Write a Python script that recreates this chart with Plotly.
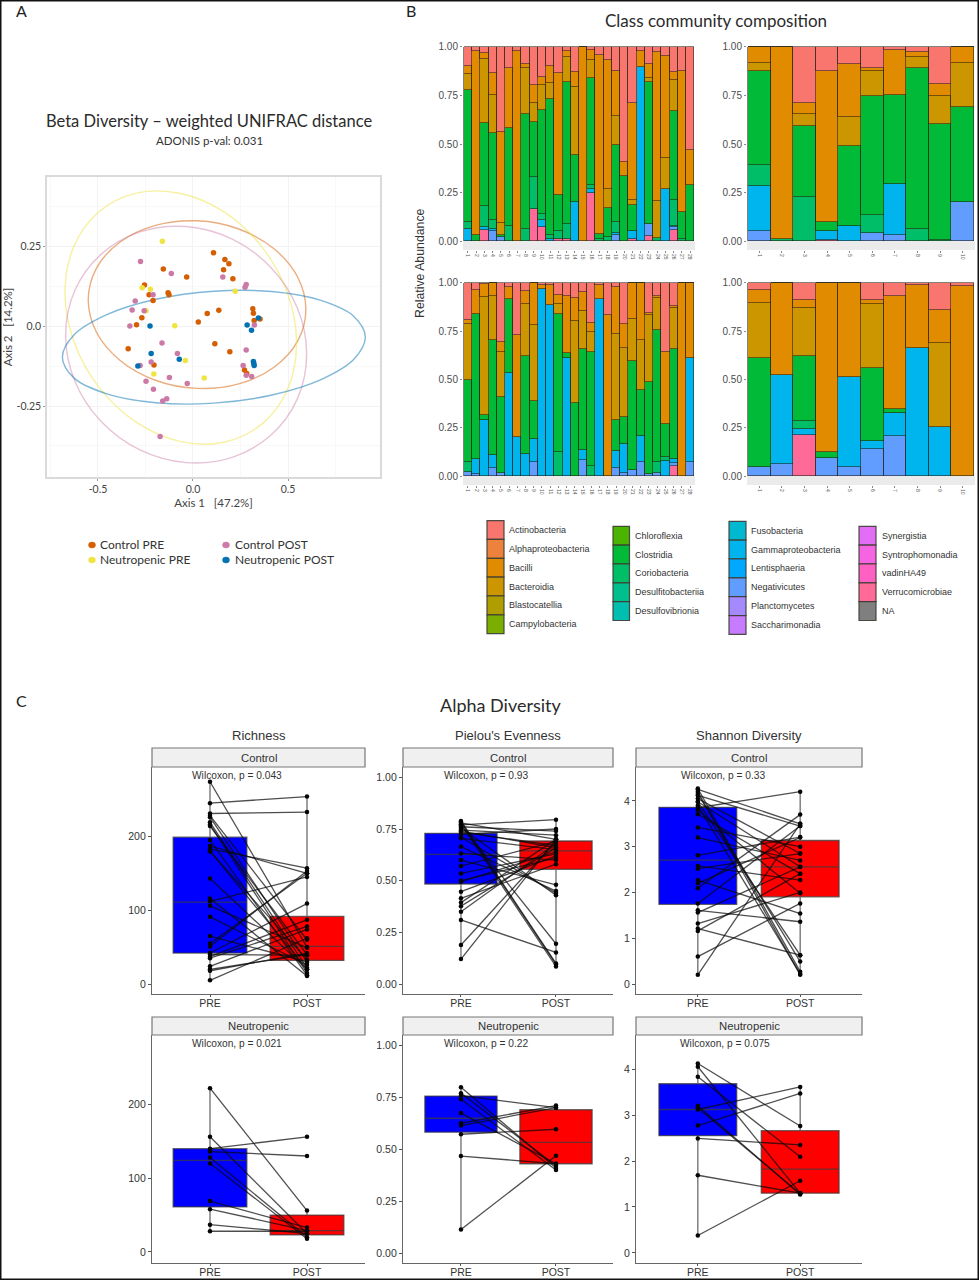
import plotly.graph_objects as go

# ---------- Panel A data ----------
CP_X = [.108,.168,.189,.161,.21,-.156,-.033,-.255,-.231,-.131,-.126,-.21,-.269,-.297,-.341,.028,.075,.136,.315,.318,.322,.353,.115,.194,-.205,.271,.283]
CP_Y = [.229,.208,.195,.176,.148,.178,.153,.128,.098,.104,.098,.08,.026,.004,-.071,.0125,.039,.049,.054,.04,.017,.022,-.055,-.08,-.122,-.1375,-.148]
NP_X = [-.161,-.224,-.267,.222,-.247,-.096,-.04,-.206,.059]
NP_Y = [.265,.115,.12,.109,.048,.001,-.108,-.15,-.1625]
CO_X = [-.276,-.114,.157,.28,.274,-.21,-.304,-.32,-.257,-.332,.323,-.163,.28,-.082,-.22,-.278,.264,.28,.309,-.124,-.03,-.247,-.208,-.138,-.159,-.173]
CO_Y = [.202,.164,.153,.13,.121,.098,.078,.05,.048,0,.003,-.053,-.075,-.086,-.1125,-.123,-.123,-.154,-.158,-.161,-.18,-.173,-.198,-.227,-.234,-.345]
NO_X = [-.226,.285,.308,.344,-.22,-.072,-.29,.318,.32,.322]
NO_Y = [0,.003,-.0135,.025,-.086,-.104,-.125,-.111,-.117,-.123]

EL_CP_X = [.594,.5505,.4263,.2408,.0215,-.1978,-.3833,-.5075,-.551,-.5075,-.3833,-.1978,.0215,.2408,.4263,.5505,.594]
EL_CP_Y = [.052,.1534,.2416,.3034,.329,.3148,.2628,.1812,.082,-.0194,-.1076,-.1694,-.195,-.1808,-.1288,-.0472,.052]
EL_NP_X = [.545,.4987,.3666,.1692,-.064,-.2972,-.4946,-.6267,-.673,-.6267,-.4946,-.2972,-.064,.1692,.3666,.4987,.545]
EL_NP_Y = [-.0535,.1012,.2442,.3544,.4145,.4156,.3574,.249,.1065,-.0482,-.1912,-.3014,-.3615,-.3626,-.3044,-.196,-.0535]
EL_CO_X = [.598,.5498,.4122,.2068,-.036,-.2788,-.4842,-.6218,-.67,-.6218,-.4842,-.2788,-.036,.2068,.4122,.5498,.598]
EL_CO_Y = [-.088,.0556,.1817,.2715,.311,.2945,.2241,.111,-.028,-.1716,-.2977,-.3875,-.427,-.4105,-.3401,-.227,-.088]
EL_NO_X = [.907,.8464,.6735,.4153,.11,-.1953,-.4535,-.6264,-.687,-.6264,-.4535,-.1953,.11,.4153,.6735,.8464,.907]
EL_NO_Y = [-.0345,.0301,.08,.1078,.109,.0836,.0354,-.0281,-.0975,-.1621,-.212,-.2398,-.241,-.2156,-.1674,-.1039,-.0345]

# ---------- Panel B data ----------
TL_VER = [0,0,.055,0,0,0,0,0,.165,.07,0,.01,.01,0,0,.25,0,0,0,0,.01,0,.025,0,0,.055,0,0]
TL_NEG = [0,0,0,.05,.02,0,0,0,0,0,0,0,0,0,0,0,0,0,.03,0,0,0,.065,0,0,.02,0,0]
TL_GAM = [.06,0,.02,.01,0,0,0,0,0,.04,.01,0,0,.20,0,.02,0,0,.01,0,.04,.895,0,0,.27,.005,0,0]
TL_COR = [.04,0,.105,.05,0,.08,0,.06,.165,.03,.02,.04,.08,0,0,.02,.01,.02,.06,0,0,0,0,.015,0,.13,.01,0]
TL_CLO = [.68,.03,.43,.445,.01,.50,0,.595,.285,.535,.70,.185,.73,.245,0,.55,.025,.15,.395,.335,.135,0,.73,0,0,.46,.14,.29]
TL_BCT = [.08,0,.33,.20,.065,0,0,.235,.095,.13,.085,0,.13,.35,0,.095,0,.10,.15,0,.025,0,.02,.19,.16,.16,0,0]
TL_BAC = [.04,.95,.03,.11,.465,.31,.98,.02,.095,.04,.085,.63,.03,.075,1,.05,.925,.665,.23,.07,.50,.085,.07,.77,.525,.04,.725,.18]
TL_ACT = [.10,.02,.03,.135,.44,.11,.02,.09,.195,.155,.10,.135,.02,.13,0,.015,.04,.065,.125,.595,.29,.02,.09,.025,.045,.13,.125,.53]

BL_VER = [0,0,0,0,0,0,0,0,0,0,0,0,0,0,0,0,0,0,0,0,0,0,0,0,0,.05,0,0]
BL_NEG = [.02,.01,0,.04,.015,0,0,0,.075,0,0,0,0,0,.085,0,0,0,.04,.015,.03,.075,.01,.015,0,.02,0,.075]
BL_GAM = [0,.08,.29,.07,0,.535,.205,.115,.115,.97,.885,0,.61,0,.05,0,.915,0,.09,.15,0,.135,0,0,.08,.02,0,.535]
BL_COR = [.055,0,0,0,0,0,0,0,0,0,0,.125,0,0,0,.05,0,0,0,0,0,0,0,.06,.02,0,0,0]
BL_CLO = [.425,.75,.025,.595,.395,.38,0,.505,.20,0,0,.715,.03,.38,.525,.595,0,0,.16,.14,.565,.235,.475,.68,.17,.57,0,0]
BL_BCT = [.285,0,.61,.23,.235,0,0,.27,.39,0,0,.05,0,.425,.195,.10,0,0,.445,.36,.22,.26,.35,.165,0,.21,0,0]
BL_BAC = [.025,.125,.07,.065,.05,.065,.525,.07,.22,.02,.105,.05,.295,.115,.10,.05,.075,.835,.245,.12,.185,.295,.01,.01,.375,.01,1,.39]
BL_ACT = [.19,.035,.005,0,.305,.02,.27,.04,0,.01,.01,.06,.065,.08,.045,.205,.01,.165,.02,.215,0,0,.155,.07,.355,.12,0,0]

TR_VER = [0,0,0,.005,0,0,0,0,0,0]
TR_NEG = [.05,0,0,0,0,.04,.03,0,0,.20]
TR_GAM = [.235,0,0,.045,.08,0,.265,0,0,0]
TR_COR = [.105,.01,.225,0,0,.095,0,.06,.005,0]
TR_CLO = [.485,0,.37,.05,.41,.61,.46,.83,.60,.49]
TR_BCT = [.04,0,.06,0,.15,.13,0,.06,.14,.23]
TR_BAC = [.085,.99,.055,.775,.27,.015,.23,.025,.065,.08]
TR_ACT = [0,0,.29,.125,.09,.11,.015,.025,.19,0]

BR_VER = [0,0,.215,0,0,0,0,0,0,0]
BR_NEG = [.045,.065,0,.095,.045,.14,.21,0,0,0]
BR_GAM = [0,.46,.03,0,.47,.04,.115,.665,.255,0]
BR_COR = [0,0,.04,0,0,0,0,0,0,0]
BR_CLO = [.565,0,.335,.03,0,.38,.025,0,0,0]
BR_BCT = [.285,0,.25,0,0,.33,0,0,.435,0]
BR_BAC = [.07,.475,.04,.875,.485,.02,.585,.325,.17,.985]
BR_ACT = [.035,0,.09,0,0,.09,.065,.01,.14,.015]

STACK_NAMES = ["Verrucomicrobiae","Negativicutes","Gammaproteobacteria","Coriobacteria","Clostridia","Bacteroidia","Bacilli","Actinobacteria"]
STACK_COLORS = ["#FF6A98","#619CFF","#00B5EE","#00BE67","#00BA38","#CC9600","#E08B00","#F8766D"]

LEG_NAMES = [
    ["Actinobacteria","Alphaproteobacteria","Bacilli","Bacteroidia","Blastocatellia","Campylobacteria"],
    ["Chloroflexia","Clostridia","Coriobacteria","Desulfitobacteriia","Desulfovibrionia"],
    ["Fusobacteria","Gammaproteobacteria","Lentisphaeria","Negativicutes","Planctomycetes","Saccharimonadia"],
    ["Synergistia","Syntrophomonadia","vadinHA49","Verrucomicrobiae","NA"],
]
LEG_COLORS = [
    ["#F8766D","#EC823C","#E08B00","#CC9600","#B09E00","#7CAE00"],
    ["#4BB400","#00BA38","#00BE67","#00BF8C","#00BFB0"],
    ["#00B8D0","#00B5EE","#00A9FF","#619CFF","#A58AFF","#C77CFF"],
    ["#E36EF6","#F564E3","#FF61C3","#FF6A98","#7F7F7F"],
]

# ---------- Panel C data (paired PRE -> POST values) ----------
RC_PRE  = [274,245,231,228,226,219,216,214,195,187,183,180,180,143,116,112,106,91,65,55,51,42,40,37,35,24,20,18,5]
RC_POST = [50,254,233,60,30,22,15,40,12,150,157,20,33,20,11,145,49,26,30,150,153,109,39,87,78,74,40,42,62]
RC_PRE_BOX = (42,111,199,5,274)
RC_POST_BOX = (32,51,91.6,11,254)

PC_PRE  = [.77,.789,.785,.78,.774,.77,.761,.755,.745,.74,.735,.724,.71,.705,.665,.632,.60,.571,.535,.50,.495,.447,.415,.394,.377,.35,.31,.189,.121]
PC_POST = [.795,.10,.095,.70,.085,.195,.74,.43,.72,.66,.67,.75,.44,.65,.45,.60,.48,.69,.63,.61,.64,.62,.58,.70,.66,.68,.153,.69,.70]
PC_PRE_BOX = (.484,.627,.729,.121,.789)
PC_POST_BOX = (.555,.644,.692,.084,.795)

SC_PRE  = [4.27,4.25,4.2,4.15,4.12,4.05,3.98,3.98,3.9,3.85,3.8,3.71,3.42,3.2,2.81,2.58,2.52,2.27,2.2,2.09,1.76,1.61,1.56,1.32,1.21,1.16,.6,.2]
SC_POST = [.27,3.5,.2,.49,3.45,2.85,.63,2.56,.22,4.2,1.98,2.41,3.0,2.7,3.21,2.27,2.85,1.54,3.2,3.7,3.45,1.36,2.56,2.0,.63,2.41,1.76,3.5]
SC_PRE_BOX = (1.74,2.705,3.86,.2,4.27)
SC_POST_BOX = (1.905,2.56,3.135,.2,4.2)

RN_PRE  = [222,156,140,136,128,120,69,58,37,28]
RN_POST = [56,25,156,130,20,18,33,29,25,28]
RN_PRE_BOX = (61,124,140,28,222)
RN_POST_BOX = (23,29,50,18,56)

PN_PRE  = [.798,.77,.758,.741,.674,.625,.614,.572,.467,.113]
PN_POST = [.41,.42,.70,.40,.43,.71,.70,.596,.43,.468]
PN_PRE_BOX = (.582,.649,.756,.113,.798)
PN_POST_BOX = (.43,.533,.69,.40,.714)

SN_PRE  = [4.12,4.05,3.83,3.2,3.15,3.12,2.77,2.49,1.69,.38]
SN_POST = [2.76,1.30,2.09,1.27,1.29,3.61,3.47,2.35,1.30,1.57]
SN_PRE_BOX = (2.55,3.12,3.68,.38,4.12)
SN_POST_BOX = (1.30,1.825,2.66,1.27,3.61)

GROUP_TICKS = ["PRE","POST"]

# ---------- layout helpers ----------
W, H = 979, 1280
SANS = "Liberation Sans"
HUM = "Lato"
def PX(v): return v / W
def PY(v): return 1 - v / H
def xdom(a, b): return [a / W, b / W]
def ydom(top, bottom): return [1 - bottom / H, 1 - top / H]

fig = go.Figure()
layout = dict(width=W, height=H, margin=dict(l=0, r=0, t=0, b=0, autoexpand=False), autosize=False,
              paper_bgcolor="white", plot_bgcolor="white", showlegend=False,
              barmode="stack", boxmode="overlay", bargap=0)
shapes, annos = [], []

def text(x, y, s, size, color="#333333", family=SANS, anchor="center", angle=0):
    annos.append(dict(x=PX(x), y=PY(y), xref="paper", yref="paper", text=s, showarrow=False,
                      font=dict(size=size, color=color, family=family), xanchor=anchor,
                      yanchor="middle", textangle=angle, align="left"))

def rect(x0, y0, x1, y1, fill, line, lw=1.0, kind="rect", layer="above"):
    shapes.append(dict(type=kind, xref="paper", yref="paper", x0=PX(x0), x1=PX(x1), y0=PY(y0), y1=PY(y1),
                       fillcolor=fill, line=dict(color=line, width=lw), layer=layer))

# ---------- Panel A ----------
layout["xaxis"] = dict(domain=xdom(47, 380), range=[-.768, .984], anchor="y", tickvals=[-.5, 0, .5],
                       ticktext=["-0.5","0.0","0.5"], showgrid=True, gridcolor="#F3F3F3", gridwidth=1, zeroline=False,
                       showline=True, mirror=True, linecolor="#DADADA", linewidth=1.5, ticks="outside", ticklen=2,
                       tickcolor="#999999", tickfont=dict(family=HUM, size=10.5, color="#444444"),
                       title=dict(text="Axis 1   [47.2%]", font=dict(family=HUM, size=11.5, color="#444444"), standoff=5),
                       minor=dict(showgrid=True, gridcolor="#F8F8F8", dtick=.25))
layout["yaxis"] = dict(domain=ydom(177, 477), range=[-.472, .466], anchor="x", tickvals=[-.25, 0, .25],
                       ticktext=["-0.25","0.0","0.25"], showgrid=True, gridcolor="#F3F3F3", zeroline=False,
                       showline=True, mirror=True, linecolor="#DADADA", linewidth=1.5, ticks="outside", ticklen=2,
                       tickcolor="#999999", tickfont=dict(family=HUM, size=10.5, color="#444444"),
                       title=dict(text="Axis 2   [14.2%]", font=dict(family=HUM, size=11.5, color="#444444"), standoff=1),
                       minor=dict(showgrid=True, gridcolor="#F8F8F8", dtick=.125))
A_GROUPS = [
    ("Control PRE", CP_X, CP_Y, EL_CP_X, EL_CP_Y, "#D55E00", "rgba(213,94,0,.5)"),
    ("Neutropenic PRE", NP_X, NP_Y, EL_NP_X, EL_NP_Y, "#F0E442", "rgba(240,228,66,.5)"),
    ("Control POST", CO_X, CO_Y, EL_CO_X, EL_CO_Y, "#CC79A7", "rgba(204,121,167,.45)"),
    ("Neutropenic POST", NO_X, NO_Y, EL_NO_X, EL_NO_Y, "#0072B2", "rgba(0,114,178,.5)"),
]
for name, xs, ys, ex, ey, col, ecol in A_GROUPS:
    fig.add_trace(go.Scatter(x=ex, y=ey, mode="lines", line=dict(color=ecol, width=1.4, shape="spline", smoothing=1.0),
                             hoverinfo="skip", xaxis="x", yaxis="y", cliponaxis=False))
for name, xs, ys, ex, ey, col, ecol in A_GROUPS:
    fig.add_trace(go.Scatter(x=xs, y=ys, mode="markers", name=name, marker=dict(color=col, size=5.5),
                             xaxis="x", yaxis="y"))
text(209, 121, "Beta Diversity – weighted UNIFRAC distance", 16.5, "#2b2b2b", HUM)
text(209, 141, "ADONIS p-val: 0.031", 11.5, "#333333", HUM)
for (mx, tx, my, label, col) in [(92, 98, 545, "Control PRE", "#D55E00"), (92, 98, 560, "Neutropenic PRE", "#F0E442"),
                                 (226, 233, 545, "Control POST", "#CC79A7"), (226, 233, 560, "Neutropenic POST", "#0072B2")]:
    rect(mx - 3.5, my - 3, mx + 3.5, my + 3, col, col, .5, "circle")
    text(tx, my - 1, label, 12, "#333333", HUM, "left")

# ---------- Panel B ----------
B_PANELS = [
    ("x2", "y2", (463, 695), (46, 250), 28, .4, 28.6, [TL_VER, TL_NEG, TL_GAM, TL_COR, TL_CLO, TL_BCT, TL_BAC, TL_ACT]),
    ("x3", "y3", (747, 975), (46, 250), 10, .45, 10.55, [TR_VER, TR_NEG, TR_GAM, TR_COR, TR_CLO, TR_BCT, TR_BAC, TR_ACT]),
    ("x4", "y4", (463, 695), (282, 485), 28, .4, 28.6, [BL_VER, BL_NEG, BL_GAM, BL_COR, BL_CLO, BL_BCT, BL_BAC, BL_ACT]),
    ("x5", "y5", (747, 975), (282, 485), 10, .45, 10.55, [BR_VER, BR_NEG, BR_GAM, BR_COR, BR_CLO, BR_BCT, BR_BAC, BR_ACT]),
]
for xa, ya, xr, yr, n, lo, hi, series in B_PANELS:
    cats = list(range(1, n + 1))
    layout["xaxis" + xa[1:]] = dict(domain=xdom(*xr), range=[lo, hi], anchor=ya, tickvals=cats, ticktext=[str(c) for c in cats],
                                    tickangle=90, tickfont=dict(size=5, color="#555555", family=SANS), ticks="outside",
                                    ticklen=2, tickcolor="#888888", showgrid=False, zeroline=False, showline=False)
    layout["yaxis" + ya[1:]] = dict(domain=ydom(*yr), range=[-.046, 1.005], anchor=xa, tickvals=[0, .25, .5, .75, 1],
                                    ticktext=["0.00","0.25","0.50","0.75","1.00"], tickfont=dict(size=10, color="#4D4D4D", family=SANS),
                                    ticks="outside", ticklen=2, tickcolor="#888888", showgrid=False, zeroline=False, showline=False)
    shapes.append(dict(type="rect", xref=xa + " domain", yref=ya, x0=0, x1=1, y0=-.046, y1=0,
                       fillcolor="#EBEBEB", line=dict(width=0), layer="below"))
    for name, col, vals in zip(STACK_NAMES, STACK_COLORS, series):
        fig.add_trace(go.Bar(x=cats, y=vals, name=name, width=1, marker=dict(color=col, line=dict(color="rgba(35,30,20,.7)", width=.8)),
                             xaxis=xa, yaxis=ya))
text(716, 20, "Class community composition", 17, "#2b2b2b", HUM)
text(420, 263, "Relative Abundance", 12.3, "#333333", SANS, angle=-90)

LEG_GEOM = [(487, 504, 507, 530), (613, 629.5, 632.5, 535.7), (729, 746, 749, 530.7), (859, 876, 879.7, 535.7)]
for (s0, s1, tx, y0), names, cols in zip(LEG_GEOM, LEG_NAMES, LEG_COLORS):
    for i, (nm, c) in enumerate(zip(names, cols)):
        yc = y0 + i * 18.85
        rect(s0, yc - 9.4, s1, yc + 9.4, c, "rgba(60,60,50,.9)", 1.2)
        text(tx, yc, nm, 9, "#333333", SANS, "left")

# ---------- Panel C ----------
C_PANELS = [
    ("x6", "y6", (152, 365), (767, 994), [.402, 2.598], [-13.5, 294], [0, 100, 200], ["0","100","200"], RC_PRE, RC_POST, RC_PRE_BOX, RC_POST_BOX),
    ("x7", "y7", (403, 613), (767, 994), [.39, 2.6], [-.048, 1.05], [0, .25, .5, .75, 1], ["0.00","0.25","0.50","0.75","1.00"], PC_PRE, PC_POST, PC_PRE_BOX, PC_POST_BOX),
    ("x8", "y8", (636, 862), (767, 994), [.396, 2.604], [-.218, 4.74], [0, 1, 2, 3, 4], ["0","1","2","3","4"], SC_PRE, SC_POST, SC_PRE_BOX, SC_POST_BOX),
    ("x9", "y9", (152, 365), (1035, 1263), [.402, 2.598], [-15, 294], [0, 100, 200], ["0","100","200"], RN_PRE, RN_POST, RN_PRE_BOX, RN_POST_BOX),
    ("x10", "y10", (403, 613), (1035, 1263), [.39, 2.6], [-.048, 1.05], [0, .25, .5, .75, 1], ["0.00","0.25","0.50","0.75","1.00"], PN_PRE, PN_POST, PN_PRE_BOX, PN_POST_BOX),
    ("x11", "y11", (636, 862), (1035, 1263), [.396, 2.604], [-.218, 4.74], [0, 1, 2, 3, 4], ["0","1","2","3","4"], SN_PRE, SN_POST, SN_PRE_BOX, SN_POST_BOX),
]
for xa, ya, xr, yr, xrange_, yrange_, yt, ytt, pre, post, pre_box, post_box in C_PANELS:
    layout["xaxis" + xa[1:]] = dict(domain=xdom(*xr), range=xrange_, anchor=ya, tickvals=[1, 2], ticktext=GROUP_TICKS,
                                    tickfont=dict(size=10.5, color="#333333", family=SANS), ticks="outside", ticklen=2,
                                    ticklabelstandoff=-3, tickcolor="#555555", showline=True, linecolor="#666666",
                                    linewidth=1.2, showgrid=False, zeroline=False)
    layout["yaxis" + ya[1:]] = dict(domain=ydom(*yr), range=yrange_, anchor=xa, tickvals=yt, ticktext=ytt,
                                    tickfont=dict(size=10.5, color="#333333", family=SANS), ticks="outside", ticklen=3,
                                    tickcolor="#555555", showline=True, linecolor="#666666", linewidth=1.2, showgrid=False, zeroline=False)
    for pos, box, col in [(1, pre_box, "#0000FF"), (2, post_box, "#FF0000")]:
        fig.add_trace(go.Box(x=[pos], q1=[box[0]], median=[box[1]], q3=[box[2]], lowerfence=[box[3]], upperfence=[box[4]],
                             width=.76, fillcolor=col, line=dict(color="rgba(60,60,60,.75)", width=1.3), whiskerwidth=0,
                             boxpoints=False, xaxis=xa, yaxis=ya))
    lx, ly = [], []
    for a, b in zip(pre, post):
        lx += [1, 2, None]
        ly += [a, b, None]
    fig.add_trace(go.Scatter(x=lx, y=ly, mode="lines+markers", line=dict(color="rgba(10,10,10,.72)", width=1.3),
                             marker=dict(color="#050505", size=4.5), xaxis=xa, yaxis=ya, hoverinfo="skip"))

STRIPS = [(152, 365, 748, 767, "Control"), (403, 613, 748, 767, "Control"), (636, 862, 748, 767, "Control"),
          (152, 365, 1017, 1035, "Neutropenic"), (403, 613, 1017, 1035, "Neutropenic"), (636, 862, 1017, 1035, "Neutropenic")]
for x0, x1, y0, y1, s in STRIPS:
    rect(x0, y0, x1, y1, "#F0F0F0", "#777777", 1.2)
    text((x0 + x1) / 2, (y0 + y1) / 2, s, 11.3, "#333333")
for x, y, s in [(237, 775, "Wilcoxon, p = 0.043"), (486, 775, "Wilcoxon, p = 0.93"), (723, 775, "Wilcoxon, p = 0.33"),
                (237, 1043, "Wilcoxon, p = 0.021"), (486, 1043, "Wilcoxon, p = 0.22"), (725, 1043, "Wilcoxon, p = 0.075")]:
    text(x, y, s, 10.2, "#333333")
text(259, 735, "Richness", 13, "#333333")
text(508, 735, "Pielou's Evenness", 13, "#333333")
text(749, 735, "Shannon Diversity", 13, "#333333")
text(501, 705, "Alpha Diversity", 18, "#2b2b2b", HUM)

text(21, 10, "A", 16, "#222222", HUM)
text(411, 10, "B", 16, "#222222", HUM)
text(21, 700, "C", 16, "#222222", HUM)

rect(0, 0, W, H, "rgba(0,0,0,0)", "#111111", 3)

layout["shapes"] = shapes
layout["annotations"] = annos
fig.update_layout(**layout)
fig.write_html("out.html", config=dict(displayModeBar=False),
               post_script="document.body.style.margin='0';document.documentElement.style.overflow='hidden';")
